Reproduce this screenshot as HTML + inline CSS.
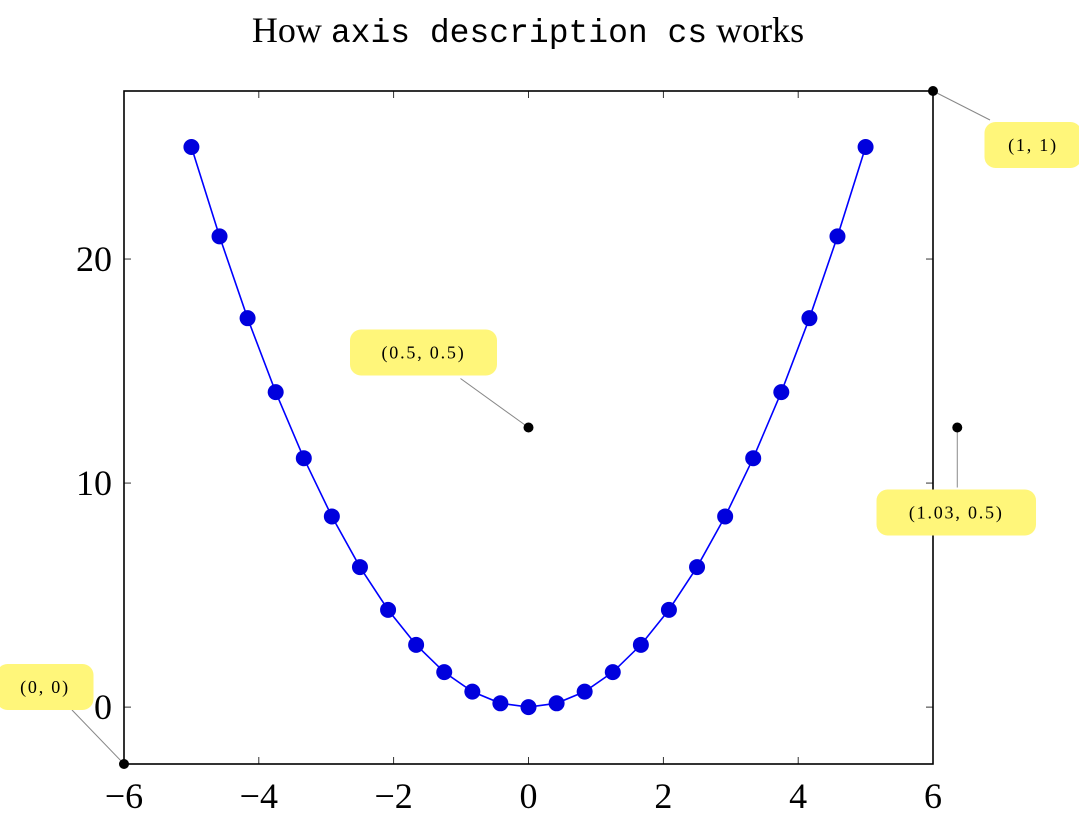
<!DOCTYPE html>
<html><head><meta charset="utf-8"><style>
body{margin:0;background:#fff;}
svg{display:block;font-family:"Liberation Serif",serif;}
</style></head><body>
<svg id="chart" width="1079" height="823" viewBox="0 0 1079 823">
<text x="528" y="42" text-anchor="middle" font-size="36">How <tspan font-family="Liberation Mono, monospace" font-size="33">axis description cs</tspan> works</text>
<g id="axes"></g>
<g id="series"></g>
<g id="annot"></g>
</svg>
<script>
const xTicks=[-6,-4,-2,0,2,4,6];
const yTicks=[0,10,20];
const xVals=[-5,-4.583,-4.167,-3.75,-3.333,-2.917,-2.5,-2.083,-1.667,-1.25,-0.833,-0.417,0,0.417,0.833,1.25,1.667,2.083,2.5,2.917,3.333,3.75,4.167,4.583,5];
const yVals=[25,21.01,17.36,14.06,11.11,8.51,6.25,4.34,2.78,1.56,0.69,0.17,0,0.17,0.69,1.56,2.78,4.34,6.25,8.51,11.11,14.06,17.36,21.01,25];
const annLabels=["(0, 0)","(1, 1)","(0.5, 0.5)","(1.03, 0.5)"];
const annRel=[[0,0],[1,1],[0.5,0.5],[1.03,0.5]];
const L=124,R=933,T=91,B=764,xmin=-6,xmax=6,ymin=-2.54,ymax=27.5;
const sx=v=>L+(v-xmin)/(xmax-xmin)*(R-L);
const sy=v=>B-(v-ymin)/(ymax-ymin)*(B-T);
const NS="http://www.w3.org/2000/svg";
function mk(tag,attrs,parent){const e=document.createElementNS(NS,tag);for(const k in attrs)e.setAttribute(k,attrs[k]);parent.appendChild(e);return e;}
const ax=document.getElementById('axes'),se=document.getElementById('series'),an=document.getElementById('annot');
const frame=mk('rect',{x:L,y:T,width:R-L,height:B-T,fill:'none',stroke:'#000','stroke-width':1.6},ax);


xTicks.forEach(v=>{const x=sx(v);
mk('line',{x1:x,y1:B,x2:x,y2:B-7,stroke:'#000','stroke-width':0.8},ax);
mk('line',{x1:x,y1:T,x2:x,y2:T+7,stroke:'#000','stroke-width':0.8},ax);
const t=mk('text',{x:x,y:B+44,'text-anchor':'middle','font-size':36},ax);
t.textContent=v<0?'\u2212'+(-v):String(v);

});
yTicks.forEach(v=>{const y=sy(v);
mk('line',{x1:L,y1:y,x2:L+7,y2:y,stroke:'#000','stroke-width':0.8},ax);
mk('line',{x1:R,y1:y,x2:R-7,y2:y,stroke:'#000','stroke-width':0.8},ax);
const t=mk('text',{x:L-12,y:y+12,'text-anchor':'end','font-size':36},ax);
t.textContent=String(v);

});
const line=mk('polyline',{points:xVals.map((x,i)=>sx(x)+','+sy(yVals[i])).join(' '),fill:'none',stroke:'#0000ff','stroke-width':1.6},se);


xVals.forEach((x,i)=>{const c=mk('circle',{cx:sx(x),cy:sy(yVals[i]),r:8,fill:'#0000dd'},se);

});
const annOff=[[-79,-77,-52,-54],[100,54,57,29],[-105,-75,-68,-49],[-1,85,0,60]];
annRel.forEach((p,i)=>{const x=L+p[0]*(R-L),y=B-p[1]*(B-T),o=annOff[i];
mk('line',{x1:x,y1:y,x2:x+o[2],y2:y+o[3],stroke:'#888','stroke-width':1},an);
const w=annLabels[i].length*12.5+22,h=46;
const r=mk('rect',{x:x+o[0]-w/2,y:y+o[1]-h/2,width:w,height:h,rx:11,fill:'#fff67a'},an);


const t=mk('text',{x:x+o[0],y:y+o[1]+6,'text-anchor':'middle','font-size':18,'letter-spacing':1.8},an);
t.textContent=annLabels[i];


const d=mk('circle',{cx:x,cy:y,r:5,fill:'#000'},an);

});
</script>
</body></html>
